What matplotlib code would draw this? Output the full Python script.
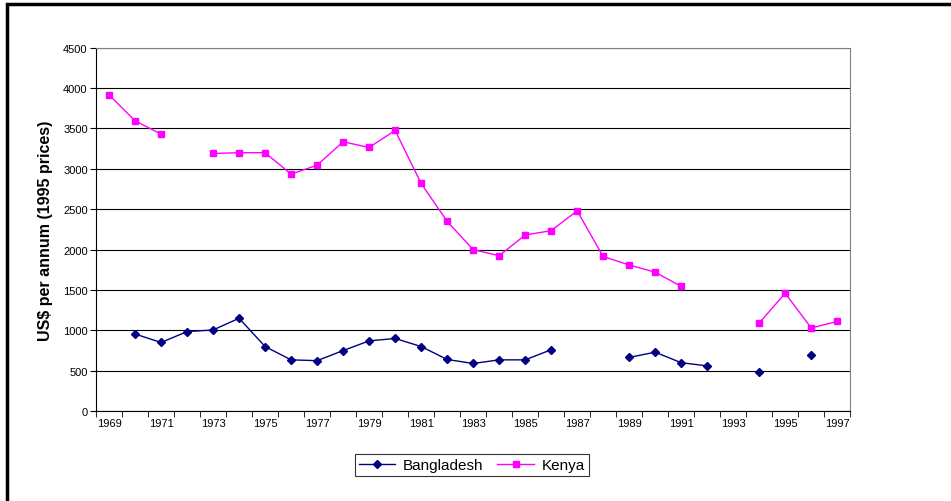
import numpy as np
import matplotlib
matplotlib.use("Agg")
import matplotlib.pyplot as plt
from matplotlib.patches import Rectangle

plt.rcParams['font.family'] = ['Liberation Sans', 'DejaVu Sans']

years = list(range(1969, 1998))
nan = np.nan

bangladesh = [nan, 955, 850, 985, 1005, 1150, 800, 635, 625, 750, 870,
              900, 800, 640, 590, 635, 635, 760, nan, nan, 665,
              730, 600, 560, nan, 490, nan, 700, nan]

kenya = [3915, 3595, 3430, nan, 3190, 3200, 3200, 2935, 3045, 3335, 3265,
         3475, 2820, 2350, 2000, 1925, 2180, 2235, 2480, 1915, 1810,
         1720, 1545, nan, nan, 1090, 1460, 1030, 1110]

yticks = list(range(0, 4501, 500))

fig = plt.figure(figsize=(9.51, 5.02), dpi=100)
ax = fig.add_axes([0.101, 0.179, 0.793, 0.724])

x = np.arange(len(years))
ax.plot(x, bangladesh, color="#000080", lw=1, marker="D", ms=4,
        label="Bangladesh")
ax.plot(x, kenya, color="#FF00FF", lw=1, marker="s", ms=5,
        label="Kenya")

ax.set_xlim(-0.5, len(years) - 0.5)
ax.set_ylim(0, 4500)
ax.set_yticks(yticks)
ax.set_yticklabels([str(t) for t in yticks], fontsize=8)
ax.yaxis.grid(True, color="black", lw=0.8)
ax.set_axisbelow(True)

# labels every other year, tick marks at category boundaries
ax.set_xticks(x[::2])
ax.set_xticklabels([str(y) for y in years[::2]], fontsize=8)
ax.tick_params(axis="x", which="major", length=0, pad=5)
ax.set_xticks(np.arange(-0.5, len(years), 1), minor=True)
ax.tick_params(axis="x", which="minor", length=4, color="black")
ax.tick_params(axis="y", length=4, color="black", pad=2)

for s in ["top", "right"]:
    ax.spines[s].set_color("#808080")
for s in ["left", "bottom"]:
    ax.spines[s].set_color("black")

ax.set_ylabel("US$ per annum (1995 prices)", fontsize=11.5,
              fontweight="bold", labelpad=7)

leg = ax.legend(loc="center", bbox_to_anchor=(0.496, 0.072),
                bbox_transform=fig.transFigure, ncol=2, fontsize=11,
                frameon=True, fancybox=False, edgecolor="black",
                handlelength=2.4, handletextpad=0.5, columnspacing=0.9,
                borderpad=0.25)
leg.get_frame().set_linewidth(0.8)

# outer chart border (top and left visible)
fig.add_artist(Rectangle((7 / 951, -0.2), 1.2, 1.2 - 5 / 502,
                         transform=fig.transFigure, fill=False,
                         edgecolor="black", lw=2.5, clip_on=False))

fig.savefig("out.png", dpi=100)
